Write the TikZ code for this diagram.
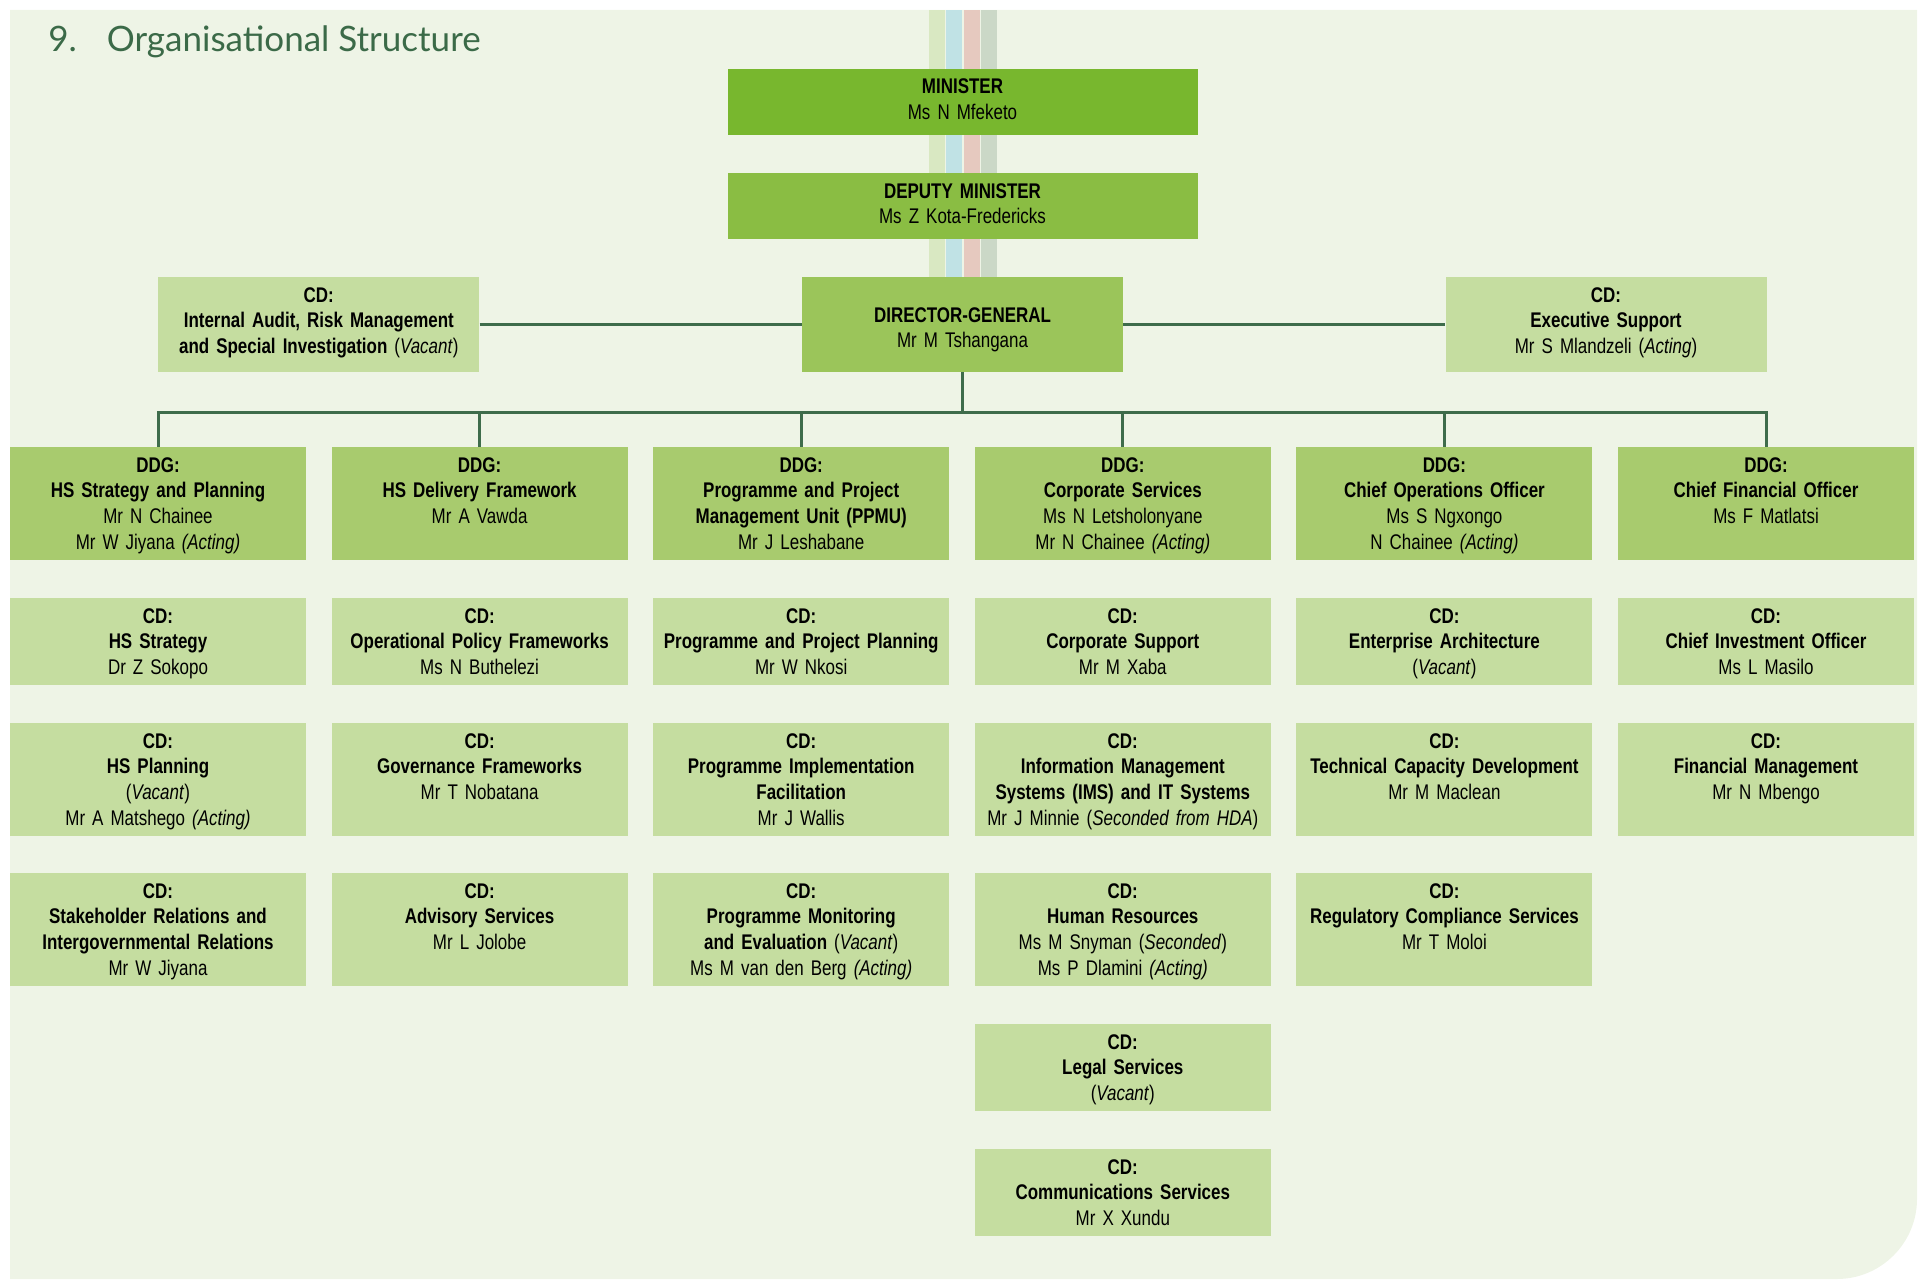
\documentclass[tikz,border=0pt]{standalone}
\usepackage{fontspec}
\setmainfont{Liberation Sans}[FakeStretch=0.8]
\newfontfamily\titlefont{Lato}
\usepackage{tikz}

\definecolor{bgfill}{HTML}{EEF4E6}
\definecolor{ministerfill}{HTML}{78B72E}
\definecolor{deputyfill}{HTML}{8ABD43}
\definecolor{dgfill}{HTML}{9BC55A}
\definecolor{ddgfill}{HTML}{A8CB6E}
\definecolor{cdfill}{HTML}{C5DDA0}
\definecolor{linegreen}{HTML}{3E6C4B}
\definecolor{titlegreen}{HTML}{3B6A48}
\definecolor{bandA}{HTML}{D9E8C2}
\definecolor{bandB}{HTML}{C0E2E5}
\definecolor{bandC}{HTML}{E6C9BF}
\definecolor{bandD}{HTML}{CBD8C7}

\newcommand{\orgsize}{\fontsize{10.6pt}{12.85pt}\selectfont}

\tikzset{
    topbox/.style={
        text width=235pt, align=center, inner sep=0pt,
        text height=12.3pt, text depth=20.7pt
    },
    headbox/.style={
        text width=160.5pt, align=center, inner sep=0pt
    },
    colbox/.style={
        text width=148pt, align=center, inner sep=0pt,
        text height=12.6pt
    },
    tallbox/.style={colbox, text depth=43.9pt},
    shortbox/.style={colbox, text depth=30.9pt},
    ddgbox/.style={tallbox, fill=ddgfill},
    cdtall/.style={tallbox, fill=cdfill},
    cdshort/.style={shortbox, fill=cdfill},
    orgline/.style={draw=linegreen, line width=1.5pt}
}

\begin{document}
\begin{tikzpicture}[x=0.5pt, y=-0.5pt, every node/.style={font=\orgsize}]
    \useasboundingbox (0,0) rectangle (1921,1279);
    % Background
    \fill[bgfill] (10,10) -- (1917,10) -- (1917,1199)
        .. controls (1917,1243) and (1881,1279) .. (1837,1279)
        -- (10,1279) -- cycle;
    \foreach \x/\c in {929/bandA, 946/bandB, 964/bandC, 981/bandD} {
        \fill[\c] (\x,10) rectangle ++(16,267);
    }
    \node[anchor=base west, inner sep=0pt, text=titlegreen,
          font=\titlefont\fontsize{17.5pt}{20pt}\selectfont]
        (title) at (48,52) {9.\hspace{15pt}Organisational Structure};

    % Top of the department
    \node[topbox, fill=ministerfill] (min) at (962.5,102)
        {\textbf{MINISTER}\\Ms N Mfeketo};
    \node[topbox, fill=deputyfill, text height=12.6pt, text depth=20.4pt] (dmin) at (962.5,206)
        {\textbf{DEPUTY MINISTER}\\Ms Z Kota-Fredericks};
    \node[headbox, fill=dgfill, text height=22.5pt, text depth=25pt] (dg) at (962.5,324.5)
        {\textbf{DIRECTOR-GENERAL}\\Mr M Tshangana};
    \node[headbox, fill=cdfill, text height=12.5pt, text depth=35pt] (audit) at (318.8,324.5)
        {\textbf{CD:}\\\textbf{Internal Audit, Risk Management}\\\textbf{and Special Investigation} (\textit{Vacant})};
    \node[headbox, fill=cdfill, text height=12.5pt, text depth=35pt] (exec) at (1606,324.5)
        {\textbf{CD:}\\\textbf{Executive Support}\\Mr S Mlandzeli (\textit{Acting})};

    % DDG row
    \node[ddgbox] (ddg1) at (158,503.5)
        {\textbf{DDG:}\\\textbf{HS Strategy and Planning}\\Mr N Chainee\\Mr W Jiyana \textit{(Acting)}};
    \node[ddgbox] (ddg2) at (479.6,503.5)
        {\textbf{DDG:}\\\textbf{HS Delivery Framework}\\Mr A Vawda};
    \node[ddgbox] (ddg3) at (801.2,503.5)
        {\textbf{DDG:}\\\textbf{Programme and Project}\\\textbf{Management Unit (PPMU)}\\Mr J Leshabane};
    \node[ddgbox] (ddg4) at (1122.8,503.5)
        {\textbf{DDG:}\\\textbf{Corporate Services}\\Ms N Letsholonyane\\Mr N Chainee \textit{(Acting)}};
    \node[ddgbox] (ddg5) at (1444.4,503.5)
        {\textbf{DDG:}\\\textbf{Chief Operations Officer}\\Ms S Ngxongo\\N Chainee \textit{(Acting)}};
    \node[ddgbox] (ddg6) at (1766,503.5)
        {\textbf{DDG:}\\\textbf{Chief Financial Officer}\\Ms F Matlatsi};

    % CD rows
    \node[cdshort] (cd11) at (158,641.5)
        {\textbf{CD:}\\\textbf{HS Strategy}\\Dr Z Sokopo};
    \node[cdtall] (cd12) at (158,779.5)
        {\textbf{CD:}\\\textbf{HS Planning}\\(\textit{Vacant})\\Mr A Matshego \textit{(Acting)}};
    \node[cdtall] (cd13) at (158,929.5)
        {\textbf{CD:}\\\textbf{Stakeholder Relations and}\\\textbf{Intergovernmental Relations}\\Mr W Jiyana};

    \node[cdshort] (cd21) at (479.6,641.5)
        {\textbf{CD:}\\\textbf{Operational Policy Frameworks}\\Ms N Buthelezi};
    \node[cdtall] (cd22) at (479.6,779.5)
        {\textbf{CD:}\\\textbf{Governance Frameworks}\\Mr T Nobatana};
    \node[cdtall] (cd23) at (479.6,929.5)
        {\textbf{CD:}\\\textbf{Advisory Services}\\Mr L Jolobe};

    \node[cdshort] (cd31) at (801.2,641.5)
        {\textbf{CD:}\\\textbf{Programme and Project Planning}\\Mr W Nkosi};
    \node[cdtall] (cd32) at (801.2,779.5)
        {\textbf{CD:}\\\textbf{Programme Implementation}\\\textbf{Facilitation}\\Mr J Wallis};
    \node[cdtall] (cd33) at (801.2,929.5)
        {\textbf{CD:}\\\textbf{Programme Monitoring}\\\textbf{and Evaluation} (\textit{Vacant})\\Ms M van den Berg \textit{(Acting)}};

    \node[cdshort] (cd41) at (1122.8,641.5)
        {\textbf{CD:}\\\textbf{Corporate Support}\\Mr M Xaba};
    \node[cdtall] (cd42) at (1122.8,779.5)
        {\textbf{CD:}\\\textbf{Information Management}\\\textbf{Systems (IMS) and IT Systems}\\Mr J Minnie (\textit{Seconded from HDA})};
    \node[cdtall] (cd43) at (1122.8,929.5)
        {\textbf{CD:}\\\textbf{Human Resources}\\Ms M Snyman (\textit{Seconded})\\Ms P Dlamini \textit{(Acting)}};
    \node[cdshort] (cd44) at (1122.8,1067.5)
        {\textbf{CD:}\\\textbf{Legal Services}\\(\textit{Vacant})};
    \node[cdshort] (cd45) at (1122.8,1192.5)
        {\textbf{CD:}\\\textbf{Communications Services}\\Mr X Xundu};

    \node[cdshort] (cd51) at (1444.4,641.5)
        {\textbf{CD:}\\\textbf{Enterprise Architecture}\\(\textit{Vacant})};
    \node[cdtall] (cd52) at (1444.4,779.5)
        {\textbf{CD:}\\\textbf{Technical Capacity Development}\\Mr M Maclean};
    \node[cdtall] (cd53) at (1444.4,929.5)
        {\textbf{CD:}\\\textbf{Regulatory Compliance Services}\\Mr T Moloi};

    \node[cdshort] (cd61) at (1766,641.5)
        {\textbf{CD:}\\\textbf{Chief Investment Officer}\\Ms L Masilo};
    \node[cdtall] (cd62) at (1766,779.5)
        {\textbf{CD:}\\\textbf{Financial Management}\\Mr N Mbengo};

    % Connectors
    \coordinate (bus) at (962.5,412);
    \draw[orgline] (audit) -- (dg);
    \draw[orgline] (dg) -- (exec);
    \draw[orgline] (dg.south) -- (bus);
    \draw[orgline, line cap=rect] (ddg1.north |- bus) -- (ddg6.north |- bus);
    \foreach \i in {1,...,6} {
        \draw[orgline] (ddg\i.north |- bus) -- (ddg\i.north);
    }
\end{tikzpicture}
\end{document}
